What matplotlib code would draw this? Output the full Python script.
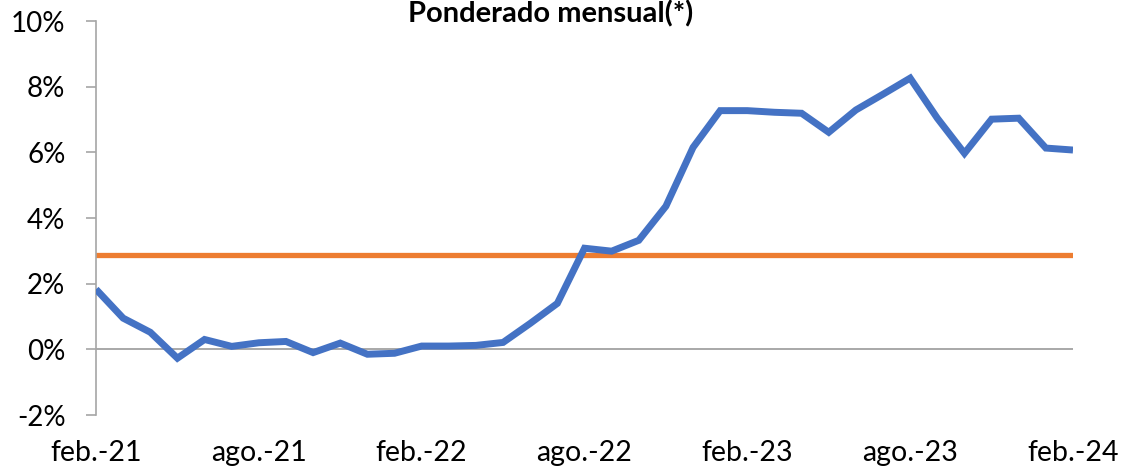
import matplotlib.pyplot as plt

# monthly weighted rate, feb-21 .. feb-24 (%)
months = ['feb.-21', 'mar.-21', 'abr.-21', 'may.-21', 'jun.-21', 'jul.-21',
          'ago.-21', 'sep.-21', 'oct.-21', 'nov.-21', 'dic.-21', 'ene.-22',
          'feb.-22', 'mar.-22', 'abr.-22', 'may.-22', 'jun.-22', 'jul.-22',
          'ago.-22', 'sep.-22', 'oct.-22', 'nov.-22', 'dic.-22', 'ene.-23',
          'feb.-23', 'mar.-23', 'abr.-23', 'may.-23', 'jun.-23', 'jul.-23',
          'ago.-23', 'sep.-23', 'oct.-23', 'nov.-23', 'dic.-23', 'ene.-24',
          'feb.-24']
ponderado = [1.83, 0.95, 0.52, -0.27, 0.30, 0.09, 0.20, 0.24, -0.10, 0.19,
             -0.15, -0.12, 0.10, 0.10, 0.12, 0.21, 0.79, 1.40, 3.08, 2.99,
             3.32, 4.36, 6.15, 7.27, 7.27, 7.22, 7.19, 6.61, 7.29, 7.77,
             8.26, 7.04, 5.97, 7.01, 7.04, 6.13, 6.07]
referencia = 2.87
yticks = [-2, 0, 2, 4, 6, 8, 10]

plt.rcParams['font.family'] = ['Lato', 'DejaVu Sans']

fig = plt.figure(figsize=(11.25, 4.72), dpi=100)
ax = fig.add_axes([96 / 1125, 57 / 472, (1073 - 96) / 1125, (415 - 21) / 472])

x = list(range(len(months)))
ax.axhline(0, color='#999999', lw=1.2, zorder=1)
ax.plot(x, [referencia] * len(x), color='#ED7D31', lw=3.8,
        solid_capstyle='round', zorder=2)
ax.plot(x, ponderado, color='#4472C4', lw=5, solid_joinstyle='miter',
        solid_capstyle='butt', zorder=3)

ax.set_xlim(0, len(x) - 1)
ax.set_ylim(-2, 10)
ax.set_yticks(yticks)
ax.set_yticklabels([f'{v}%' for v in yticks])
ax.set_xticks(x[::6])
ax.set_xticklabels(months[::6])

for s in ['top', 'right', 'bottom']:
    ax.spines[s].set_visible(False)
ax.spines['left'].set_color('#A6A6A6')
ax.spines['left'].set_linewidth(1.2)
ax.tick_params(axis='y', length=7, width=1.2, color='#A6A6A6', pad=15,
               labelsize=20)
ax.tick_params(axis='x', length=0, pad=18, labelsize=20.5)

fig.text(551 / 1125, 1 - 22 / 472, 'Ponderado mensual(*)', ha='center',
         va='baseline', fontsize=21, fontweight='bold')

fig.savefig('out.png', dpi=100)
